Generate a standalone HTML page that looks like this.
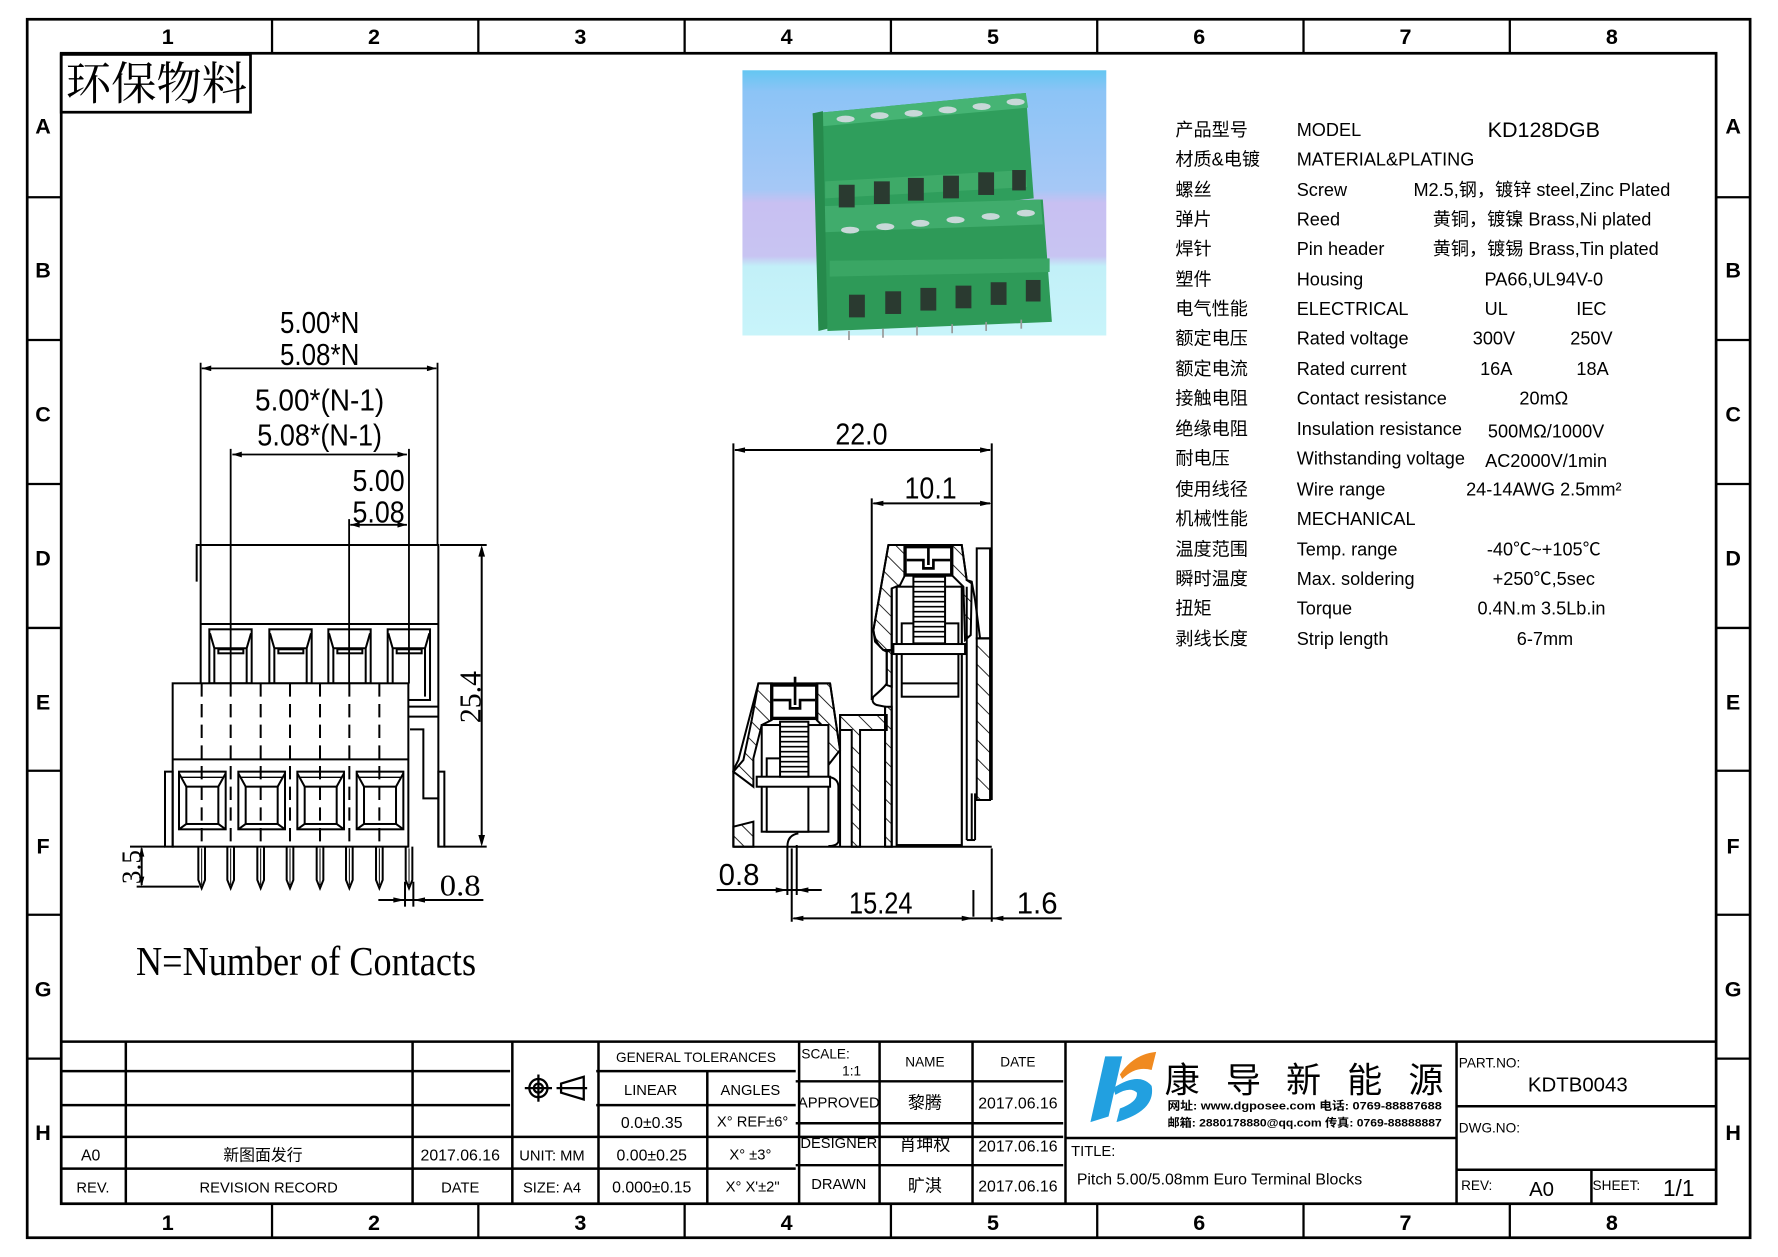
<!DOCTYPE html>
<html><head><meta charset="utf-8"><style>
html,body{margin:0;padding:0;background:#fff;}
svg{display:block;}
text{font-family:"Liberation Sans","Noto Sans CJK SC",sans-serif;fill:#000;}
.s{font-family:"Liberation Serif","Noto Serif CJK SC","Noto Sans CJK SC",serif;}
</style></head><body>
<svg xmlns="http://www.w3.org/2000/svg" width="1778" height="1257" viewBox="0 0 1568.6 1109" preserveAspectRatio="none">
<defs>
<pattern id="h" patternUnits="userSpaceOnUse" width="40" height="40" patternTransform="rotate(-45)">
<line x1="0" y1="0" x2="0" y2="40" stroke="#000" stroke-width="5"/>
</pattern>
<linearGradient id="bg" x1="0" y1="0" x2="0" y2="1">
<stop offset="0" stop-color="#64c6f2"/><stop offset="0.08" stop-color="#8cc4f6"/>
<stop offset="0.45" stop-color="#a6c8f6"/><stop offset="0.5" stop-color="#c8c0f2"/>
<stop offset="0.7" stop-color="#c8c4f2"/><stop offset="0.74" stop-color="#c2f0f8"/><stop offset="1" stop-color="#c8f4fa"/>
</linearGradient>
<marker id="a" viewBox="0 0 10 6" refX="10" refY="3" markerWidth="10" markerHeight="5" orient="auto-start-reverse" markerUnits="userSpaceOnUse"><path d="M0,0L10,3L0,6z" fill="#000"/></marker>
</defs>

<!-- frames -->
<g fill="none" stroke="#000" stroke-width="2.4">
<rect x="24" y="17" width="1520" height="1075"/>
<rect x="54" y="47" width="1460" height="1015"/>
</g>
<g stroke="#000" stroke-width="2">
<line x1="240" y1="17" x2="240" y2="47"/><line x1="422" y1="17" x2="422" y2="47"/><line x1="604" y1="17" x2="604" y2="47"/><line x1="786" y1="17" x2="786" y2="47"/><line x1="968" y1="17" x2="968" y2="47"/><line x1="1150" y1="17" x2="1150" y2="47"/><line x1="1332" y1="17" x2="1332" y2="47"/>
<line x1="240" y1="1062" x2="240" y2="1092"/><line x1="422" y1="1062" x2="422" y2="1092"/><line x1="604" y1="1062" x2="604" y2="1092"/><line x1="786" y1="1062" x2="786" y2="1092"/><line x1="968" y1="1062" x2="968" y2="1092"/><line x1="1150" y1="1062" x2="1150" y2="1092"/><line x1="1332" y1="1062" x2="1332" y2="1092"/>
<line x1="24" y1="174" x2="54" y2="174"/><line x1="24" y1="300" x2="54" y2="300"/><line x1="24" y1="427" x2="54" y2="427"/><line x1="24" y1="554" x2="54" y2="554"/><line x1="24" y1="680" x2="54" y2="680"/><line x1="24" y1="807" x2="54" y2="807"/><line x1="24" y1="934" x2="54" y2="934"/>
<line x1="1514" y1="174" x2="1544" y2="174"/><line x1="1514" y1="300" x2="1544" y2="300"/><line x1="1514" y1="427" x2="1544" y2="427"/><line x1="1514" y1="554" x2="1544" y2="554"/><line x1="1514" y1="680" x2="1544" y2="680"/><line x1="1514" y1="807" x2="1544" y2="807"/><line x1="1514" y1="934" x2="1544" y2="934"/>
</g>
<g font-size="19" font-weight="bold" text-anchor="middle">
<text x="148" y="39">1</text><text x="330" y="39">2</text><text x="512" y="39">3</text><text x="694" y="39">4</text><text x="876" y="39">5</text><text x="1058" y="39">6</text><text x="1240" y="39">7</text><text x="1422" y="39">8</text>
<text x="148" y="1085">1</text><text x="330" y="1085">2</text><text x="512" y="1085">3</text><text x="694" y="1085">4</text><text x="876" y="1085">5</text><text x="1058" y="1085">6</text><text x="1240" y="1085">7</text><text x="1422" y="1085">8</text>
<text x="38" y="118">A</text><text x="38" y="245">B</text><text x="38" y="372">C</text><text x="38" y="499">D</text><text x="38" y="626">E</text><text x="38" y="753">F</text><text x="38" y="879">G</text><text x="38" y="1006">H</text>
<text x="1529" y="118">A</text><text x="1529" y="245">B</text><text x="1529" y="372">C</text><text x="1529" y="499">D</text><text x="1529" y="626">E</text><text x="1529" y="753">F</text><text x="1529" y="879">G</text><text x="1529" y="1006">H</text>
</g>

<!-- eco label -->
<rect x="54" y="48" width="167" height="51" fill="none" stroke="#000" stroke-width="2.4"/>
<text x="58" y="88" font-size="40" class="s" textLength="160" lengthAdjust="spacingAndGlyphs">环保物料</text>

<!-- photo -->
<rect x="655" y="62" width="321" height="234" fill="url(#bg)"/>
<g>
<polygon points="717,100 905,82 912,175 726,196" fill="#2f9e5c"/>
<polygon points="717,100 905,82 907,95 718,112" fill="#46b474"/>
<polygon points="722,182 920,176 928,284 730,292" fill="#2e9a58"/>
<polygon points="722,182 918,176 920,198 724,205" fill="#40ac6c"/>
<polygon points="717,100 726,98 730,290 722,292" fill="#268a4c"/>
<polygon points="728,160 905,150 906,165 728,175" fill="#3eaa68"/>
<polygon points="732,230 926,228 926,240 732,244" fill="#3aa664"/>
<g fill="#2a3a30"><rect x="740" y="163" width="14" height="20"/><rect x="771" y="160" width="14" height="20"/><rect x="801" y="157" width="14" height="20"/><rect x="832" y="155" width="14" height="20"/><rect x="863" y="152" width="14" height="20"/><rect x="893" y="150" width="12" height="18"/>
<rect x="749" y="260" width="14" height="20"/><rect x="781" y="257" width="14" height="20"/><rect x="812" y="254" width="14" height="20"/><rect x="843" y="252" width="14" height="20"/><rect x="874" y="249" width="14" height="20"/><rect x="905" y="247" width="13" height="19"/></g>
<g fill="#c8d8d8"><ellipse cx="746" cy="105" rx="8" ry="3"/><ellipse cx="776" cy="102" rx="8" ry="3"/><ellipse cx="806" cy="100" rx="8" ry="3"/><ellipse cx="836" cy="97" rx="8" ry="3"/><ellipse cx="866" cy="94" rx="8" ry="3"/><ellipse cx="896" cy="90" rx="8" ry="3"/>
<ellipse cx="750" cy="203" rx="8" ry="3"/><ellipse cx="781" cy="200" rx="8" ry="3"/><ellipse cx="812" cy="197" rx="8" ry="3"/><ellipse cx="843" cy="194" rx="8" ry="3"/><ellipse cx="874" cy="191" rx="8" ry="3"/><ellipse cx="905" cy="188" rx="8" ry="3"/></g>
<g stroke="#999" stroke-width="1.5"><line x1="749" y1="292" x2="749" y2="300"/><line x1="779" y1="290" x2="779" y2="298"/><line x1="809" y1="288" x2="809" y2="296"/><line x1="840" y1="286" x2="840" y2="294"/><line x1="870" y1="284" x2="870" y2="292"/><line x1="901" y1="282" x2="901" y2="290"/></g>
</g>

<!-- spec table -->
<g font-size="16" class="s">
<text x="1037" y="120">产品型号</text><text x="1144" y="120">MODEL</text><text x="1362" y="121" text-anchor="middle" font-size="19">KD128DGB</text>
<text x="1037" y="146">材质&amp;电镀</text><text x="1144" y="146">MATERIAL&amp;PLATING</text>
<text x="1037" y="173">螺丝</text><text x="1144" y="173">Screw</text><text x="1247" y="173">M2.5,钢，镀锌 steel,Zinc Plated</text>
<text x="1037" y="199">弹片</text><text x="1144" y="199">Reed</text><text x="1264" y="199">黄铜，镀镍 Brass,Ni plated</text>
<text x="1037" y="225">焊针</text><text x="1144" y="225">Pin header</text><text x="1264" y="225">黄铜，镀锡 Brass,Tin plated</text>
<text x="1037" y="252">塑件</text><text x="1144" y="252">Housing</text><text x="1362" y="252" text-anchor="middle">PA66,UL94V-0</text>
<text x="1037" y="278">电气性能</text><text x="1144" y="278">ELECTRICAL</text><text x="1320" y="278" text-anchor="middle">UL</text><text x="1404" y="278" text-anchor="middle">IEC</text>
<text x="1037" y="304">额定电压</text><text x="1144" y="304">Rated voltage</text><text x="1318" y="304" text-anchor="middle">300V</text><text x="1404" y="304" text-anchor="middle">250V</text>
<text x="1037" y="331">额定电流</text><text x="1144" y="331">Rated current</text><text x="1320" y="331" text-anchor="middle">16A</text><text x="1405" y="331" text-anchor="middle">18A</text>
<text x="1037" y="357">接触电阻</text><text x="1144" y="357">Contact resistance</text><text x="1362" y="357" text-anchor="middle">20mΩ</text>
<text x="1037" y="384">绝缘电阻</text><text x="1144" y="384">Insulation resistance</text><text x="1364" y="386" text-anchor="middle">500MΩ/1000V</text>
<text x="1037" y="410">耐电压</text><text x="1144" y="410">Withstanding voltage</text><text x="1364" y="412" text-anchor="middle">AC2000V/1min</text>
<text x="1037" y="437">使用线径</text><text x="1144" y="437">Wire range</text><text x="1362" y="437" text-anchor="middle">24-14AWG 2.5mm²</text>
<text x="1037" y="463">机械性能</text><text x="1144" y="463">MECHANICAL</text>
<text x="1037" y="490">温度范围</text><text x="1144" y="490">Temp. range</text><text x="1362" y="490" text-anchor="middle">-40℃~+105℃</text>
<text x="1037" y="516">瞬时温度</text><text x="1144" y="516">Max. soldering</text><text x="1362" y="516" text-anchor="middle">+250℃,5sec</text>
<text x="1037" y="542">扭矩</text><text x="1144" y="542">Torque</text><text x="1360" y="542" text-anchor="middle">0.4N.m  3.5Lb.in</text>
<text x="1037" y="569">剥线长度</text><text x="1144" y="569">Strip length</text><text x="1363" y="569" text-anchor="middle">6-7mm</text>
</g>

<!-- LEFT DRAWING dims (display coords) -->
<g stroke="#000" stroke-width="1.6" fill="none">
<line x1="177" y1="320" x2="177" y2="481"/><line x1="386" y1="320" x2="386" y2="481"/>
<line x1="178" y1="325" x2="385" y2="325" marker-start="url(#a)" marker-end="url(#a)"/>
<line x1="203.5" y1="396" x2="203.5" y2="603"/><line x1="360.8" y1="396" x2="360.8" y2="603"/>
<line x1="205" y1="401" x2="359" y2="401" marker-start="url(#a)" marker-end="url(#a)"/>
<line x1="308" y1="458" x2="308" y2="603"/>
<line x1="309" y1="463" x2="359" y2="463" marker-start="url(#a)" marker-end="url(#a)"/>
</g>
<g class="s" font-size="27" text-anchor="middle">
<text x="282" y="294" textLength="70" lengthAdjust="spacingAndGlyphs">5.00*N</text>
<text x="282" y="322" textLength="70" lengthAdjust="spacingAndGlyphs">5.08*N</text>
<text x="282" y="362" textLength="114" lengthAdjust="spacingAndGlyphs">5.00*(N-1)</text>
<text x="282" y="393" textLength="110" lengthAdjust="spacingAndGlyphs">5.08*(N-1)</text>
<text x="334" y="433" textLength="46" lengthAdjust="spacingAndGlyphs">5.00</text>
<text x="334" y="461" textLength="46" lengthAdjust="spacingAndGlyphs">5.08</text>
</g>
<text x="270" y="860" class="s" font-size="36" text-anchor="middle" textLength="300" lengthAdjust="spacingAndGlyphs">N=Number of Contacts</text>

<!-- LEFT body in zoom coords -->
<g transform="translate(97.04,458.75) scale(0.2941)" stroke="#000" stroke-width="6" fill="none">
<path d="M260,185 V75 H985 V980"/><line x1="272" y1="75" x2="272" y2="490"/>
<line x1="272" y1="312" x2="985" y2="312"/>
<g id="uw">
<rect x="298" y="328" width="127" height="162"/>
<polyline points="300,340 313,385 313,490"/><polyline points="423,340 410,385 410,490"/>
<line x1="313" y1="385" x2="410" y2="385"/><rect x="325" y="388" width="75" height="12"/>
</g>
<use href="#uw" x="180"/><use href="#uw" x="357"/>
<rect x="833" y="328" width="127" height="212"/>
<polyline points="835,340 848,385 848,490"/><polyline points="958,340 945,385 945,530"/><line x1="848" y1="385" x2="945" y2="385"/><rect x="860" y="388" width="75" height="12"/>
<line x1="895" y1="560" x2="985" y2="560"/><line x1="895" y1="590" x2="985" y2="590"/>
<polyline points="900,628 940,628 940,835 985,835"/>
<rect x="188" y="490" width="707" height="490" fill="#fff"/>
<line x1="188" y1="718" x2="895" y2="718"/>
<rect x="165" y="755" width="23" height="225"/><rect x="985" y="755" width="18" height="225"/>
<g id="lw">
<rect x="207" y="755" width="140" height="173"/>
<rect x="229" y="800" width="96" height="112"/>
<line x1="207" y1="760" x2="229" y2="800"/><line x1="347" y1="760" x2="325" y2="800"/>
<line x1="207" y1="928" x2="229" y2="912"/><line x1="347" y1="928" x2="325" y2="912"/>
<line x1="215" y1="772" x2="339" y2="772" stroke-width="4"/>
</g>
<use href="#lw" x="178"/><use href="#lw" x="355"/><use href="#lw" x="533"/>
<g stroke-dasharray="40,22">
<line x1="275" y1="490" x2="275" y2="980"/><line x1="362" y1="490" x2="362" y2="980"/><line x1="452" y1="490" x2="452" y2="980"/><line x1="540" y1="490" x2="540" y2="980"/><line x1="630" y1="490" x2="630" y2="980"/><line x1="718" y1="490" x2="718" y2="980"/><line x1="808" y1="490" x2="808" y2="980"/>
</g>
<g id="pin"><path d="M265,980 V1080 L275,1105 L285,1080 V980"/><line x1="275" y1="985" x2="275" y2="1095" stroke-width="3"/></g>
<use href="#pin" x="87"/><use href="#pin" x="177"/><use href="#pin" x="265"/><use href="#pin" x="355"/><use href="#pin" x="443"/><use href="#pin" x="533"/><use href="#pin" x="622"/>
<line x1="60" y1="980" x2="165" y2="980"/><line x1="1003" y1="980" x2="1130" y2="980"/><line x1="990" y1="75" x2="1130" y2="75"/>
<line x1="1115" y1="85" x2="1115" y2="970"/>
<path d="M1115,75 l-10,35 h20z M1115,980 l-10,-35 h20z" fill="#000" stroke="none"/>
<line x1="80" y1="1100" x2="268" y2="1100"/>
<line x1="95" y1="985" x2="95" y2="1095"/>
<path d="M95,980 l-8,30 h16z M95,1100 l-8,-30 h16z" fill="#000" stroke="none"/>
<line x1="885" y1="1085" x2="885" y2="1160"/><line x1="910" y1="1085" x2="910" y2="1160"/>
<line x1="805" y1="1140" x2="1120" y2="1140"/>
<path d="M885,1140 l-35,-8 v16z M910,1140 l35,-8 v16z" fill="#000" stroke="none"/>
</g>
<text class="s" font-size="27" transform="translate(424,615) rotate(-90)" text-anchor="middle" textLength="46" lengthAdjust="spacingAndGlyphs">25.4</text>
<text class="s" font-size="24" transform="translate(124,765) rotate(-90)" text-anchor="middle">3.5</text>
<text class="s" font-size="27" x="406" y="790" text-anchor="middle" textLength="36" lengthAdjust="spacingAndGlyphs">0.8</text>

<!-- MIDDLE DRAWING -->
<g transform="translate(617.6,458.8) scale(0.2941)" stroke="#000" stroke-width="6" fill="none">
<g fill="url(#h)">
<polygon points="565,75 615,75 615,165 600,195 575,205 575,390 550,390 525,365 520,330"/>
<polygon points="755,75 785,75 800,180 815,190 812,345 795,360 790,200 760,170 755,165"/>
<polygon points="560,395 575,390 575,500 560,495"/>
<polygon points="555,560 575,560 575,980 555,980"/>
<polygon points="830,355 870,355 870,840 830,840"/>
<polygon points="175,490 215,490 215,600 185,615 160,715 160,800 100,755 130,720 155,600"/>
<polygon points="100,920 160,905 160,980 100,980"/>
<polygon points="350,490 390,490 420,690 385,735 370,620 350,600"/>
<polygon points="420,585 560,585 560,630 480,630 480,980 455,980 455,630 420,630"/>
</g>
<line x1="100" y1="-230" x2="100" y2="980"/><line x1="100" y1="980" x2="875" y2="980"/>
<line x1="875" y1="-230" x2="875" y2="840"/><line x1="875" y1="985" x2="875" y2="1205"/>
<line x1="515" y1="-65" x2="515" y2="540"/>
<path d="M565,75 L785,75 L800,180 L815,185 L825,240 L840,355 L870,355"/>
<path d="M565,75 L520,330 Q525,370 550,390 L560,395 L560,490 Q555,500 520,530 Q512,548 530,555 L555,560 L555,980"/>
<rect x="830" y="85" width="40" height="270"/>
<line x1="575" y1="205" x2="575" y2="980"/><line x1="590" y1="200" x2="590" y2="980"/>
<line x1="785" y1="200" x2="785" y2="980"/><line x1="800" y1="200" x2="800" y2="960"/>
<line x1="800" y1="960" x2="825" y2="960"/><line x1="825" y1="820" x2="825" y2="960"/><line x1="815" y1="820" x2="815" y2="960"/>
<rect x="590" y="200" width="195" height="775" fill="#fff"/>
<rect x="605" y="310" width="170" height="220" fill="#fff"/><line x1="605" y1="490" x2="775" y2="490"/>
<rect x="580" y="372" width="215" height="30" fill="#fff"/>
<rect x="640" y="170" width="95" height="200" fill="#fff"/>
<path d="M640,185 H735 M640,200 H735 M640,215 H735 M640,230 H735 M640,245 H735 M640,260 H735 M640,275 H735 M640,290 H735 M640,305 H735 M640,320 H735 M640,335 H735 M640,350 H735" stroke-width="5"/>
<rect x="615" y="80" width="140" height="85" fill="#fff" stroke-width="10"/>
<path d="M620,120 H670 V145 H700 V120 H750 M685,80 V135" stroke-width="8"/>
<path d="M175,490 L390,490"/><path d="M175,490 L115,720 L100,750 L100,980"/><path d="M390,490 L420,690"/>
<line x1="420" y1="585" x2="420" y2="980"/><line x1="420" y1="585" x2="560" y2="585"/>
<rect x="185" y="615" width="200" height="320" fill="#fff"/>
<rect x="200" y="715" width="125" height="220" fill="#fff"/>
<rect x="170" y="770" width="220" height="30" fill="#fff"/>
<rect x="240" y="605" width="85" height="165" fill="#fff"/>
<path d="M240,620 H325 M240,635 H325 M240,650 H325 M240,665 H325 M240,680 H325 M240,695 H325 M240,710 H325 M240,725 H325 M240,740 H325 M240,755 H325" stroke-width="5"/>
<rect x="215" y="495" width="135" height="100" fill="#fff" stroke-width="10"/>
<path d="M220,540 H270 V565 H300 V540 H345 M285,470 V555" stroke-width="8"/>
<path d="M385,770 Q415,775 415,800 L415,965 Q410,978 385,978"/>
<path d="M295,940 Q262,945 262,980 L262,1125 M290,975 L290,1125"/>
<line x1="50" y1="1110" x2="365" y2="1110"/>
<path d="M262,1110 l-35,-8 v16z M290,1110 l35,-8 v16z" fill="#000" stroke="none"/>
<line x1="275" y1="985" x2="275" y2="1205"/><line x1="820" y1="1110" x2="820" y2="1190"/>
<line x1="280" y1="1195" x2="1085" y2="1195"/>
<path d="M275,1195 l35,-8 v16z M820,1195 l-35,-8 v16z M875,1195 l35,-8 v16z" fill="#000" stroke="none"/>
<line x1="105" y1="-210" x2="870" y2="-210"/>
<path d="M100,-210 l35,-8 v16z M875,-210 l-35,-8 v16z M515,-50 l35,-8 v16z M875,-50 l-35,-8 v16z" fill="#000" stroke="none"/>
<line x1="520" y1="-50" x2="870" y2="-50"/>
</g>
<g class="s" font-size="27" text-anchor="middle">
<text x="760" y="392" textLength="46" lengthAdjust="spacingAndGlyphs">22.0</text>
<text x="821" y="440" textLength="46" lengthAdjust="spacingAndGlyphs">10.1</text>
<text x="652" y="781" textLength="36" lengthAdjust="spacingAndGlyphs">0.8</text>
<text x="777" y="806" textLength="56" lengthAdjust="spacingAndGlyphs">15.24</text>
<text x="915" y="806" textLength="36" lengthAdjust="spacingAndGlyphs">1.6</text>
</g>

<!-- TITLE BLOCK -->
<g stroke="#000" stroke-width="2.2" fill="none">
<line x1="54" y1="919" x2="1514" y2="919"/>
<line x1="54" y1="945" x2="450" y2="945"/><line x1="54" y1="975" x2="450" y2="975"/><line x1="54" y1="1003" x2="938" y2="1003"/><line x1="54" y1="1031" x2="702" y2="1031"/>
<line x1="526" y1="945" x2="702" y2="945"/><line x1="526" y1="975" x2="702" y2="975"/>
<line x1="702" y1="954" x2="938" y2="954"/><line x1="702" y1="991" x2="938" y2="991"/><line x1="702" y1="1028" x2="938" y2="1028"/>
<line x1="111" y1="919" x2="111" y2="1062"/><line x1="364" y1="919" x2="364" y2="1062"/><line x1="452" y1="919" x2="452" y2="1062"/>
<line x1="528" y1="919" x2="528" y2="1062"/><line x1="624" y1="945" x2="624" y2="1062"/><line x1="705" y1="919" x2="705" y2="1062"/>
<line x1="776" y1="919" x2="776" y2="1062"/><line x1="858" y1="919" x2="858" y2="1062"/><line x1="940" y1="919" x2="940" y2="1062"/>
<line x1="940" y1="1004" x2="1285" y2="1004"/><line x1="1285" y1="919" x2="1285" y2="1062"/>
<line x1="1285" y1="976" x2="1514" y2="976"/><line x1="1285" y1="1032" x2="1514" y2="1032"/><line x1="1404" y1="1032" x2="1404" y2="1062"/>
</g>
<g class="s" font-size="14" text-anchor="middle">
<text x="80" y="1024">A0</text><text x="232" y="1024">新图面发行</text><text x="406" y="1024">2017.06.16</text>
<text x="82" y="1052" font-size="13">REV.</text><text x="237" y="1052" font-size="13">REVISION RECORD</text><text x="406" y="1052" font-size="13">DATE</text>
<text x="487" y="1024" font-size="13">UNIT: MM</text><text x="487" y="1052" font-size="13">SIZE: A4</text>
<text x="614" y="937" font-size="12">GENERAL TOLERANCES</text>
<text x="574" y="966" font-size="13">LINEAR</text><text x="662" y="966" font-size="13">ANGLES</text>
<text x="575" y="995">0.0±0.35</text><text x="664" y="994" font-size="13">X° REF±6°</text>
<text x="575" y="1024">0.00±0.25</text><text x="662" y="1023" font-size="13">X° ±3°</text>
<text x="575" y="1052">0.000±0.15</text><text x="664" y="1051" font-size="13">X° X'±2"</text>
<text x="740" y="977" font-size="13">APPROVED</text><text x="740" y="1013" font-size="13">DESIGNER</text><text x="740" y="1049" font-size="13">DRAWN</text>
<text x="816" y="941" font-size="12">NAME</text><text x="898" y="941" font-size="12">DATE</text>
<text x="816" y="978" font-size="15">黎腾</text><text x="816" y="1015" font-size="15">肖坤权</text><text x="816" y="1051" font-size="15">旷淇</text>
<text x="898" y="978">2017.06.16</text><text x="898" y="1016">2017.06.16</text><text x="898" y="1051">2017.06.16</text>
<text x="1392" y="963" font-size="18">KDTB0043</text>
<text x="1360" y="1055" font-size="18">A0</text><text x="1481" y="1055" font-size="20">1/1</text>
</g>
<g class="s" font-size="12">
<text x="707" y="934">SCALE:</text><text x="743" y="949">1:1</text>
<text x="1287" y="942">PART.NO:</text><text x="1287" y="999">DWG.NO:</text>
<text x="1289" y="1050">REV:</text><text x="1405" y="1050">SHEET:</text>
<text x="945" y="1020" font-size="13">TITLE:</text>
<text x="950" y="1045" font-size="14" font-family="Liberation Mono,monospace">Pitch 5.00/5.08mm Euro Terminal Blocks</text>
</g>
<!-- tolerance symbol -->
<g stroke="#000" stroke-width="2" fill="none">
<circle cx="475" cy="960" r="8"/><circle cx="475" cy="960" r="4"/><line x1="463" y1="960" x2="487" y2="960"/><line x1="475" y1="948" x2="475" y2="972"/>
<path d="M495,956 L515,950 L515,970 L495,964 Z M491,960 H518"/>
</g>
<!-- logo -->
<path d="M975,932 L990,932 L978,985 L962,990 Z" fill="#22a0e0"/>
<path d="M982,960 Q1005,945 1016,958 Q1020,980 985,990 L988,978 Q1004,972 1003,964 Q997,958 984,966 Z" fill="#22a0e0"/>
<path d="M988,948 Q1000,930 1020,928 L1016,944 Q1002,940 990,952 Z" fill="#f08a20"/>
<g font-size="31" text-anchor="middle" font-family="'Noto Sans CJK SC',sans-serif">
<text x="1043" y="964">康</text><text x="1097" y="964">导</text><text x="1150" y="964">新</text><text x="1204" y="964">能</text><text x="1258" y="964">源</text>
</g>
<g font-size="10" font-weight="bold" font-family="'Noto Sans CJK SC',sans-serif">
<text x="1030" y="979" textLength="242" lengthAdjust="spacingAndGlyphs">网址: www.dgposee.com    电话: 0769-88887688</text>
<text x="1030" y="994" textLength="242" lengthAdjust="spacingAndGlyphs">邮箱: 2880178880@qq.com 传真: 0769-88888887</text>
</g>
</svg>
</body></html>
